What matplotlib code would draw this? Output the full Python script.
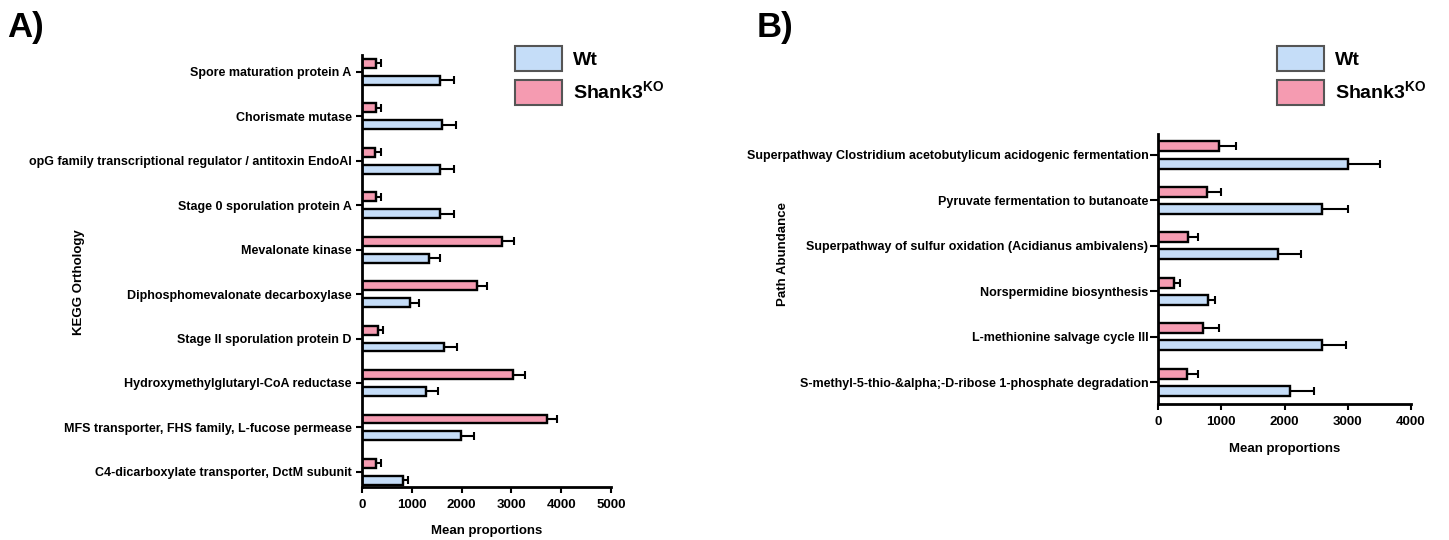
import numpy as np
import matplotlib
matplotlib.use("Agg")
import matplotlib.pyplot as plt
from matplotlib.patches import Patch

plt.rcParams["font.family"] = ["Liberation Sans", "DejaVu Sans"]
plt.rcParams["mathtext.fontset"] = "custom"
plt.rcParams["mathtext.rm"] = "Liberation Sans:bold"
plt.rcParams["mathtext.bf"] = "Liberation Sans:bold"

# ── Data (listed top to bottom as in the figure) ──────────────────────────────

kegg_terms = [
    "Spore maturation protein A",
    "Chorismate mutase",
    "opG family transcriptional regulator / antitoxin EndoAI",
    "Stage 0 sporulation protein A",
    "Mevalonate kinase",
    "Diphosphomevalonate decarboxylase",
    "Stage II sporulation protein D",
    "Hydroxymethylglutaryl-CoA reductase",
    "MFS transporter, FHS family, L-fucose permease",
    "C4-dicarboxylate transporter, DctM subunit",
]
kegg_wt = [1565, 1600, 1565, 1565, 1340, 970, 1640, 1285, 1995, 830]
kegg_wt_sem = [285, 280, 285, 285, 220, 180, 260, 240, 260, 85]
kegg_ko = [275, 275, 270, 275, 2815, 2300, 315, 3040, 3715, 280]
kegg_ko_sem = [105, 115, 105, 110, 230, 205, 105, 240, 205, 95]

path_terms = [
    "Superpathway Clostridium acetobutylicum acidogenic fermentation",
    "Pyruvate fermentation to butanoate",
    "Superpathway of sulfur oxidation (Acidianus ambivalens)",
    "Norspermidine biosynthesis",
    "L-methionine salvage cycle III",
    "S-methyl-5-thio-&alpha;-D-ribose 1-phosphate degradation",
]
path_wt = [3000, 2590, 1895, 785, 2590, 2090]
path_wt_sem = [505, 410, 360, 120, 385, 375]
path_ko = [960, 770, 480, 255, 715, 465]
path_ko_sem = [275, 230, 150, 90, 245, 165]

WT_COLOR = "#C5DDF8"
KO_COLOR = "#F59BB1"


def draw_panel(ax, terms, wt, wt_sem, ko, ko_sem, bar_h, tick_len, tick_pad):
    n = len(terms)
    y = np.arange(n)[::-1]
    err_kw = dict(ecolor="black", elinewidth=1.5, capsize=3, capthick=1.5)
    ax.barh(y - 0.19, wt, height=bar_h, color=WT_COLOR, edgecolor="black",
            linewidth=1.7, xerr=[np.zeros(n), wt_sem], error_kw=err_kw, zorder=2)
    ax.barh(y + 0.19, ko, height=bar_h, color=KO_COLOR, edgecolor="black",
            linewidth=1.7, xerr=[np.zeros(n), ko_sem], error_kw=err_kw, zorder=2)
    ax.set_yticks(y)
    ax.set_yticklabels(terms, fontsize=9, fontweight="bold")
    for s in ["top", "right"]:
        ax.spines[s].set_visible(False)
    for s in ["left", "bottom"]:
        ax.spines[s].set_linewidth(2)
    ax.tick_params(axis="y", length=tick_len, width=1.5, pad=tick_pad)
    ax.tick_params(axis="x", length=4.5, width=1.5, labelsize=9.5, pad=4)


fig = plt.figure(figsize=(14.49, 5.40), dpi=100)

# ── Panel A ───────────────────────────────────────────────────────────────────
axA = fig.add_axes([362 / 1449, 1 - 487 / 540, 249 / 1449, 432 / 540])
draw_panel(axA, kegg_terms, kegg_wt, kegg_wt_sem, kegg_ko, kegg_ko_sem,
           bar_h=0.2, tick_len=4.5, tick_pad=3)
axA.set_xlim(0, 5000)
axA.set_xticks([0, 1000, 2000, 3000, 4000, 5000])
axA.set_ylim(-0.34, 9.38)
for lbl in axA.get_xticklabels():
    lbl.set_fontweight("bold")
axA.set_xlabel("Mean proportions", fontsize=9.5, fontweight="bold", labelpad=10)
axA.set_ylabel("KEGG Orthology", fontsize=9.5, fontweight="bold")
axA.yaxis.set_label_coords(85 / 1449, 1 - 282 / 540, transform=fig.transFigure)

# ── Panel B ───────────────────────────────────────────────────────────────────
axB = fig.add_axes([1158 / 1449, 1 - 404 / 540, 253 / 1449, 270 / 540])
draw_panel(axB, path_terms, path_wt, path_wt_sem, path_ko, path_ko_sem,
           bar_h=0.22, tick_len=6, tick_pad=1)
axB.set_xlim(0, 4000)
axB.set_xticks([0, 1000, 2000, 3000, 4000])
axB.set_ylim(-0.48, 5.46)
for lbl in axB.get_xticklabels():
    lbl.set_fontweight("bold")
axB.set_xlabel("Mean proportions", fontsize=9.5, fontweight="bold", labelpad=11)
axB.set_ylabel("Path Abundance", fontsize=9.5, fontweight="bold")
axB.yaxis.set_label_coords(789 / 1449, 1 - 254 / 540, transform=fig.transFigure)

# ── Legends and panel letters ────────────────────────────────────────────────
handles = [
    Patch(facecolor=WT_COLOR, edgecolor="#555555", linewidth=1.5, label="Wt"),
    Patch(facecolor=KO_COLOR, edgecolor="#555555", linewidth=1.5,
          label=r"$\mathbf{Shank3^{KO}}$"),
]
for x0 in (515, 1277):
    fig.legend(handles=handles, loc="upper left",
               bbox_to_anchor=(x0 / 1449, 1 - 46 / 540),
               bbox_transform=fig.transFigure, frameon=False,
               prop=dict(size=14, weight="bold"),
               handlelength=2.4, handleheight=1.6, handletextpad=0.6,
               labelspacing=0.45, borderpad=0, borderaxespad=0)

fig.text(7 / 1449, 1 - 27 / 540, "A)", fontsize=25, fontweight="bold", va="center")
fig.text(757 / 1449, 1 - 27 / 540, "B)", fontsize=25, fontweight="bold", va="center")

fig.savefig("out.png", dpi=100)
